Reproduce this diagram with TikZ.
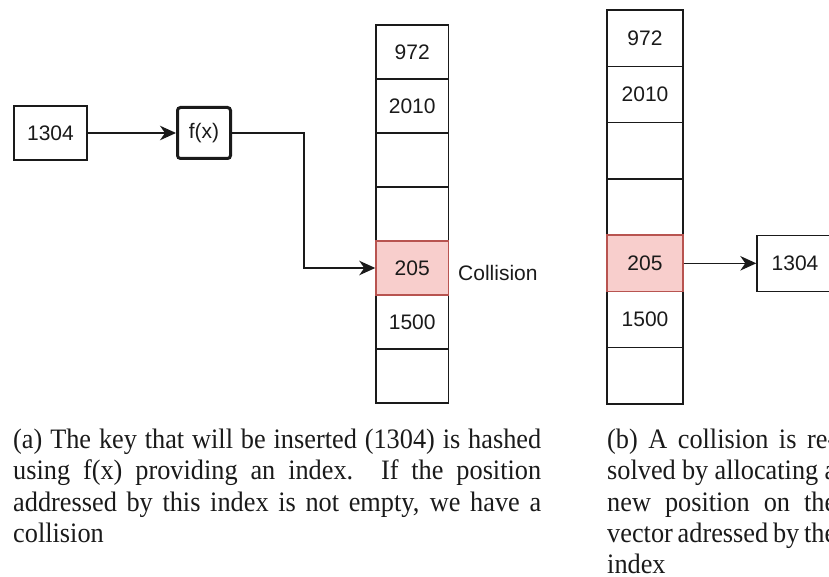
\documentclass[tikz,border=0pt]{standalone}
\usepackage{fontspec}
\usepackage{graphicx}
\setmainfont{Liberation Serif}
\newfontfamily\diagfont{Liberation Sans}
\usetikzlibrary{arrows.meta}
\definecolor{ink}{HTML}{1A1A1A}
\definecolor{hitfill}{HTML}{F8CECC}
\definecolor{hitline}{HTML}{B85450}
\newcommand\captionfnt{\fontsize{26.3}{31.3}\selectfont}
% one caption line, justified to a given width and set slightly tall
\newcommand\capline[2]{\scalebox{1}[1.07]{\makebox[#1][s]{#2}}}
\begin{document}
\begin{tikzpicture}[x=1pt,y=-1pt,
  lbl/.style={font=\diagfont\fontsize{21}{24}\selectfont, text=ink},
  cellA/.style={lbl, draw=ink, line width=1.4pt, minimum width=72.5pt, minimum height=54pt, inner sep=0pt},
  cellB/.style={lbl, draw=ink, line width=1.4pt, minimum width=76pt, minimum height=56.3pt, inner sep=0pt},
  hit/.style={fill=hitfill, draw=hitline},
  keybox/.style={lbl, draw=ink, line width=1.4pt, inner sep=0pt},
  hashbox/.style={lbl, draw=ink, line width=3pt, rounded corners=3pt, inner sep=0pt, minimum width=53pt, minimum height=51pt},
  arr/.style={draw=ink, line width=1.4pt, -{Stealth[length=16pt,width=14.5pt,inset=5pt]}},
  captxt/.style={anchor=base west, inner sep=0pt, font=\captionfnt, text=ink}]
\useasboundingbox (0,0) rectangle (829,577);
\clip (0,0) rectangle (829,577);

% ---- (a) hashing the key into the vector ----
\node[keybox, minimum width=73pt, minimum height=54pt] (key) at (50.5,133) {1304};
\node[hashbox] (fx) at (204,133) {f(x)};

\node[cellA] (a1) at (412.2,52) {972};
\node[cellA] (a2) at (412.2,106) {2010};
\node[cellA] (a3) at (412.2,160) {};
\node[cellA] (a4) at (412.2,214) {};
\node[cellA] (a6) at (412.2,322) {1500};
\node[cellA] (a7) at (412.2,376) {};
\node[cellA, hit] (a5) at (412.2,268) {205};
\node[lbl, anchor=base west, inner sep=0pt] (coll) at (458,280.5) {Collision};

\coordinate (bend) at (304,0);
\draw[arr] (key.east) -- (fx.west);
\draw[arr] (fx.east) -- (fx.east -| bend) |- (a5.west);

% ---- (b) chaining the colliding key ----
\node[cellB] (b1) at (645,38.1) {972};
\node[cellB] (b2) at (645,94.4) {2010};
\node[cellB] (b3) at (645,150.7) {};
\node[cellB] (b4) at (645,207) {};
\node[cellB] (b6) at (645,319.6) {1500};
\node[cellB] (b7) at (645,375.9) {};
\node[cellB, hit] (b5) at (645,263.3) {205};
\node[keybox, minimum width=76pt, minimum height=56pt] (chain) at (795,263.3) {1304};
\draw[arr] (b5.east) -- (chain.west);

% ---- captions ----
\node[captxt] (ca1) at (13,448.5) {\capline{528pt}{(a) The key that will be inserted (1304) is hashed}};
\node[captxt] (ca2) at (13,479.8) {\capline{528pt}{using f(x) providing an index. If the position}};
\node[captxt] (ca3) at (13,511.1) {\capline{528pt}{addressed by this index is not empty, we have a}};
\node[captxt] (ca4) at (13,542.4) {\scalebox{1}[1.07]{collision}};

\node[captxt] (cb1) at (607,448.5) {\capline{229pt}{(b) A collision is re-}};
\node[captxt] (cb2) at (607,479.8) {\capline{229pt}{solved by allocating a}};
\node[captxt] (cb3) at (607,511.1) {\capline{229pt}{new position on the}};
\node[captxt] (cb4) at (607,542.4) {\capline{229pt}{vector adressed by the}};
\node[captxt] (cb5) at (607,573.7) {\scalebox{1}[1.07]{index}};
\end{tikzpicture}
\end{document}
